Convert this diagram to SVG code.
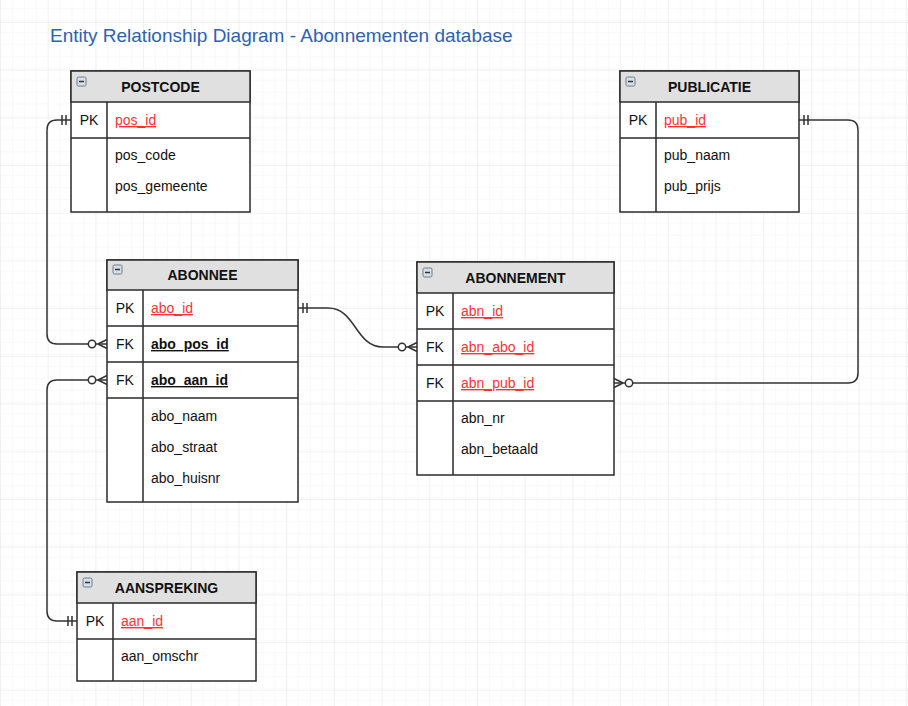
<svg xmlns="http://www.w3.org/2000/svg" width="908" height="706" viewBox="0 0 908 706">
<style>
.tbl{fill:#fff;stroke:#2b2b2b;stroke-width:1.5}
.hdr{fill:#e0e0e0;stroke:#2b2b2b;stroke-width:1.5}
.ln{stroke:#2b2b2b;stroke-width:1.5;fill:none}
.ttl{font-family:"Liberation Sans",Arial,sans-serif;font-size:14px;font-weight:bold;fill:#111;text-anchor:middle}
.key{font-family:"Liberation Sans",Arial,sans-serif;font-size:14px;fill:#111;text-anchor:middle}
.fld{font-family:"Liberation Sans",Arial,sans-serif;font-size:14px;fill:#111}
.pk{fill:#f33;text-decoration:underline}
.fk{font-weight:bold;text-decoration:underline}
.conn{stroke:#333;stroke-width:1.5;fill:none}
.mk{stroke:#333;stroke-width:1.5;fill:none}
.ic{fill:#d8dee6;stroke:#6d7c8c;stroke-width:1}
</style>
<defs>
<pattern id="minor" width="11.925" height="11.925" patternUnits="userSpaceOnUse" x="0" y="22">
<path d="M11.925 0H0V11.925" fill="none" stroke="#f3f3f3" stroke-width="1"/>
</pattern>
<pattern id="major" width="47.7" height="47.7" patternUnits="userSpaceOnUse" x="0" y="22">
<rect width="47.7" height="47.7" fill="url(#minor)"/>
<path d="M47.7 0H0V47.7" fill="none" stroke="#e6e6e6" stroke-width="1"/>
</pattern>
<marker id="one" viewBox="-20 -8 24 16" refX="0" refY="0" markerWidth="24" markerHeight="16" markerUnits="userSpaceOnUse" orient="auto-start-reverse" overflow="visible">
<path class="mk" d="M-5,-5V5M-9,-5V5"/>
</marker>
<marker id="many" viewBox="-20 -8 24 16" refX="0" refY="0" markerWidth="24" markerHeight="16" markerUnits="userSpaceOnUse" orient="auto-start-reverse" overflow="visible">
<path class="mk" d="M-9,0L0,-4.5M-9,0L0,4.5"/>
<circle cx="-15" cy="0" r="3.7" fill="#fff" stroke="#333" stroke-width="1.5"/>
</marker>
<g id="minus">
<rect class="ic" x="0" y="0" width="9" height="9" rx="1.5"/>
<path d="M2,4.5H7" stroke="#333" stroke-width="1.5"/>
</g>
</defs>
<rect width="908" height="706" fill="#fff"/>
<rect width="908" height="706" fill="url(#major)"/>
<text x="50" y="42" font-family="'Liberation Sans',Arial,sans-serif" font-size="19" fill="#2e62ae">Entity Relationship Diagram - Abonnementen database</text>

<g id="connectors">
<path class="conn" d="M71,120H57Q47,120 47,130V334Q47,344 57,344H107" marker-start="url(#one)" marker-end="url(#many)"/>
<path class="conn" d="M107,380H57Q47,380 47,390V611Q47,621 57,621H77" marker-start="url(#many)" marker-end="url(#one)"/>
<path class="conn" d="M298,308H328C356,308 355,347 383,347H417" marker-start="url(#one)" marker-end="url(#many)"/>
<path class="conn" d="M799,120H848Q858,120 858,130V373Q858,383 848,383H614" marker-start="url(#one)" marker-end="url(#many)"/>
</g>

<g id="postcode">
<rect class="tbl" x="71" y="71" width="179" height="141"/>
<rect class="hdr" x="71" y="71" width="179" height="31"/>
<use href="#minus" x="77" y="77"/>
<text class="ttl" x="160.5" y="92">POSTCODE</text>
<path class="ln" d="M71,138H250M107,102V212"/>
<text class="key" x="89" y="125">PK</text>
<text class="fld pk" x="115" y="125">pos_id</text>
<text class="fld" x="115" y="160">pos_code</text>
<text class="fld" x="115" y="191">pos_gemeente</text>
</g>

<g id="publicatie">
<rect class="tbl" x="620" y="71" width="179" height="141"/>
<rect class="hdr" x="620" y="71" width="179" height="31"/>
<use href="#minus" x="626" y="77"/>
<text class="ttl" x="709.5" y="92">PUBLICATIE</text>
<path class="ln" d="M620,138H799M656,102V212"/>
<text class="key" x="638" y="125">PK</text>
<text class="fld pk" x="664" y="125">pub_id</text>
<text class="fld" x="664" y="160">pub_naam</text>
<text class="fld" x="664" y="191">pub_prijs</text>
</g>

<g id="abonnee">
<rect class="tbl" x="107" y="260" width="191" height="242"/>
<rect class="hdr" x="107" y="260" width="191" height="30"/>
<use href="#minus" x="113" y="265"/>
<text class="ttl" x="202.5" y="280">ABONNEE</text>
<path class="ln" d="M107,326H298M107,362H298M107,398H298M143,290V502"/>
<text class="key" x="125" y="313">PK</text>
<text class="fld pk" x="151" y="313">abo_id</text>
<text class="key" x="125" y="349">FK</text>
<text class="fld fk" x="151" y="349">abo_pos_id</text>
<text class="key" x="125" y="385">FK</text>
<text class="fld fk" x="151" y="385">abo_aan_id</text>
<text class="fld" x="151" y="421">abo_naam</text>
<text class="fld" x="151" y="452">abo_straat</text>
<text class="fld" x="151" y="483">abo_huisnr</text>
</g>

<g id="abonnement">
<rect class="tbl" x="417" y="262" width="197" height="213"/>
<rect class="hdr" x="417" y="262" width="197" height="31"/>
<use href="#minus" x="423" y="268"/>
<text class="ttl" x="515.5" y="283">ABONNEMENT</text>
<path class="ln" d="M417,329H614M417,365H614M417,401H614M453,293V475"/>
<text class="key" x="435" y="316">PK</text>
<text class="fld pk" x="461" y="316">abn_id</text>
<text class="key" x="435" y="352">FK</text>
<text class="fld pk" x="461" y="352">abn_abo_id</text>
<text class="key" x="435" y="388">FK</text>
<text class="fld pk" x="461" y="388">abn_pub_id</text>
<text class="fld" x="461" y="423">abn_nr</text>
<text class="fld" x="461" y="454">abn_betaald</text>
</g>

<g id="aanspreking">
<rect class="tbl" x="77" y="572" width="179" height="109"/>
<rect class="hdr" x="77" y="572" width="179" height="31"/>
<use href="#minus" x="83" y="578"/>
<text class="ttl" x="166.5" y="593">AANSPREKING</text>
<path class="ln" d="M77,639H256M113,603V681"/>
<text class="key" x="95" y="626">PK</text>
<text class="fld pk" x="121" y="626">aan_id</text>
<text class="fld" x="121" y="661">aan_omschr</text>
</g>
</svg>
